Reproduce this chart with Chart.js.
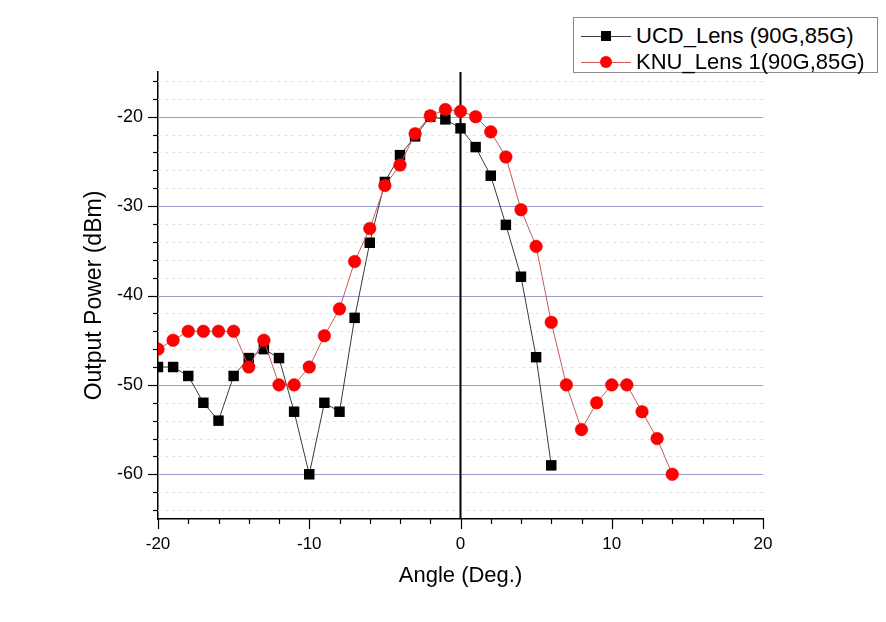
<!DOCTYPE html>
<html><head><meta charset="utf-8">
<script src="https://cdn.jsdelivr.net/npm/chart.js@4"></script>
<style>
html,body{margin:0;padding:0;background:#fff;}
#wrap{position:relative;width:886px;height:622px;}
#legend{position:absolute;left:573px;top:17px;width:305px;height:56px;border:1px solid #8a8a8a;box-sizing:border-box;background:#fff;font-family:"Liberation Sans",Arial,sans-serif;font-size:22px;color:#000;}
.row{position:absolute;left:0;width:100%;height:26px;}
.ln{position:absolute;left:7px;width:50px;top:13px;height:1px;}
.mk{position:absolute;}
.txt{position:absolute;left:62px;top:0;line-height:26px;white-space:nowrap;}
</style></head>
<body>
<div id="wrap">
<canvas id="c" width="886" height="622"></canvas>
<div id="legend"></div>
</div>
<script>
// ---- data ----
const ucdAngles = [-20,-19,-18,-17,-16,-15,-14,-13,-12,-11,-10,-9,-8,-7,-6,-5,-4,-3,-2,-1,0,1,2,3,4,5,6];
const ucdPower  = [-48,-48,-49,-52,-54,-49,-47,-46,-47,-53,-60,-52,-53,-42.5,-34.1,-27.3,-24.3,-22.2,-20,-20.3,-21.3,-23.4,-26.6,-32.1,-37.9,-46.9,-59];
const knuAngles = [-20,-19,-18,-17,-16,-15,-14,-13,-12,-11,-10,-9,-8,-7,-6,-5,-4,-3,-2,-1,0,1,2,3,4,5,6,7,8,9,10,11,12,13,14];
const knuPower  = [-46,-45,-44,-44,-44,-44,-48,-45,-50,-50,-48,-44.5,-41.5,-36.2,-32.5,-27.7,-25.4,-21.9,-19.9,-19.2,-19.4,-20,-21.7,-24.5,-30.4,-34.5,-43,-50,-55,-52,-50,-50,-53,-56,-60];
const seriesLabels = ["UCD_Lens (90G,85G)", "KNU_Lens 1(90G,85G)"];
const xTicks = [-20,-18,-16,-14,-12,-10,-8,-6,-4,-2,0,2,4,6,8,10,12,14,16,18,20];
const xLabeled = [-20,-10,0,10,20];
const yTicks = [-64,-62,-60,-58,-56,-54,-52,-50,-48,-46,-44,-42,-40,-38,-36,-34,-32,-30,-28,-26,-24,-22,-20,-18,-16];
const yLabeled = [-60,-50,-40,-30,-20];

const FONT = '"Liberation Sans", Arial, sans-serif';
const toXY = (xs, ys) => xs.map((x, i) => ({x: x, y: ys[i]}));

const gridPlugin = {
  id: 'originGrid',
  beforeDatasetsDraw(chart) {
    const {ctx, chartArea: a, scales: {x, y}} = chart;
    ctx.save();
    ctx.lineWidth = 1;
    yTicks.forEach(v => {
      const py = Math.round(y.getPixelForValue(v)) + 0.5;
      if (yLabeled.includes(v)) { ctx.strokeStyle = '#9c9cd0'; ctx.setLineDash([]); }
      else { ctx.strokeStyle = '#e2e2e2'; ctx.setLineDash([3, 4]); }
      ctx.beginPath(); ctx.moveTo(a.left, py); ctx.lineTo(a.right, py); ctx.stroke();
    });
    ctx.setLineDash([]);
    // zero line
    const px0 = x.getPixelForValue(0);
    ctx.strokeStyle = '#000'; ctx.lineWidth = 2;
    ctx.beginPath(); ctx.moveTo(px0, a.top); ctx.lineTo(px0, a.bottom); ctx.stroke();
    ctx.restore();
  },
  afterDraw(chart) {
    const {ctx, chartArea: a, scales: {x, y}} = chart;
    ctx.save();
    ctx.strokeStyle = '#000'; ctx.lineWidth = 1.2;
    yTicks.forEach(v => {
      const py = Math.round(y.getPixelForValue(v)) + 0.5;
      const len = yLabeled.includes(v) ? 10 : 5;
      ctx.beginPath(); ctx.moveTo(a.left - len, py); ctx.lineTo(a.left, py); ctx.stroke();
    });
    xTicks.forEach(v => {
      const px = Math.round(x.getPixelForValue(v)) + 0.5;
      const len = xLabeled.includes(v) ? 10 : 5;
      ctx.beginPath(); ctx.moveTo(px, a.bottom); ctx.lineTo(px, a.bottom + len); ctx.stroke();
    });
    ctx.restore();
  }
};

const chart = new Chart(document.getElementById('c'), {
  type: 'line',
  data: {
    datasets: [
      {
        label: seriesLabels[0],
        data: toXY(ucdAngles, ucdPower),
        borderColor: '#3a3a3a', borderWidth: 1,
        pointStyle: 'rect', pointRadius: 7.4,
        pointBackgroundColor: '#000', pointBorderColor: '#000', pointBorderWidth: 0,
        tension: 0, order: 2
      },
      {
        label: seriesLabels[1],
        data: toXY(knuAngles, knuPower),
        borderColor: '#c85a5a', borderWidth: 1,
        pointStyle: 'circle', pointRadius: 6.3,
        pointBackgroundColor: '#ff0000', pointBorderColor: '#e00000', pointBorderWidth: 0.5,
        tension: 0, order: 1
      }
    ]
  },
  options: {
    responsive: false, animation: false,
    layout: {padding: {left: 0, top: 72, right: 123, bottom: 0}},
    plugins: {legend: {display: false}, tooltip: {enabled: false}},
    scales: {
      x: {
        type: 'linear', min: -20, max: 20,
        afterBuildTicks: s => { s.ticks = xLabeled.map(v => ({value: v})); },
        afterFit: s => { s.height = 103; },
        grid: {display: false, drawTicks: false},
        border: {display: true, color: '#000', width: 1.5},
        ticks: {font: {family: FONT, size: 17}, color: '#000', padding: 15, maxRotation: 0},
        title: {display: true, text: 'Angle (Deg.)', font: {family: FONT, size: 22}, color: '#000', padding: {top: 0, bottom: 33}}
      },
      y: {
        type: 'linear', min: -65, max: -15,
        afterBuildTicks: s => { s.ticks = yLabeled.map(v => ({value: v})); },
        afterFit: s => { s.width = 158; },
        grid: {display: false, drawTicks: false},
        border: {display: true, color: '#000', width: 1.5},
        ticks: {font: {family: FONT, size: 18}, color: '#000', padding: 15},
        title: {display: true, text: 'Output Power (dBm)', font: {family: FONT, size: 23}, color: '#000', padding: {top: 81, bottom: 0}}
      }
    }
  },
  plugins: [gridPlugin]
});

// ---- HTML legend built from dataset styles ----
const lg = document.getElementById('legend');
chart.data.datasets.forEach((ds, i) => {
  const row = document.createElement('div');
  row.className = 'row';
  row.style.top = (i === 0 ? 5 : 31) + 'px';
  const ln = document.createElement('div'); ln.className = 'ln'; ln.style.background = ds.borderColor;
  const mk = document.createElement('div'); mk.className = 'mk';
  if (ds.pointStyle === 'rect') {
    mk.style.cssText = 'left:27px;top:8px;width:10px;height:10px;background:' + ds.pointBackgroundColor;
  } else {
    mk.style.cssText = 'left:26px;top:7px;width:12px;height:12px;border-radius:50%;background:' + ds.pointBackgroundColor;
  }
  const tx = document.createElement('div'); tx.className = 'txt'; tx.textContent = ds.label;
  row.appendChild(ln); row.appendChild(mk); row.appendChild(tx);
  lg.appendChild(row);
});
</script>
</body></html>
